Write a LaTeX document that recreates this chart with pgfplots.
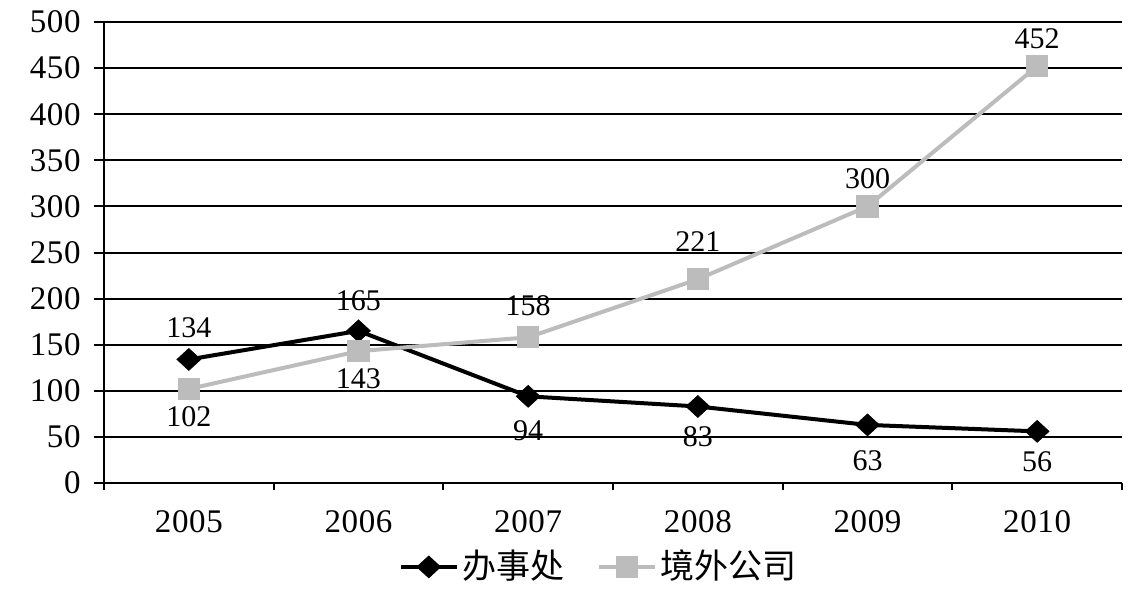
\documentclass[border=0pt]{standalone}
\usepackage{fontspec}
\setmainfont{Liberation Serif}[LetterSpace=2]
\newfontfamily\lab{Liberation Serif}
\newfontfamily\cjk{Noto Sans CJK SC}
\usepackage{pgfplots}
\pgfplotsset{compat=1.18}
\definecolor{lgray}{RGB}{188,188,188}
\pgfplotstableread{
x y dy
0 134 16
1 165 15
2 94 -17
3 83 -15
4 63 -18
5 56 -15
}\office
\pgfplotstableread{
x y dy
0 102 -14
1 143 -14
2 158 16
3 221 19
4 300 14
5 452 14
}\abroad
\begin{document}
\fontsize{16.5}{19}\selectfont
\begin{tikzpicture}
\useasboundingbox (-52pt,-53.5pt) rectangle (515.5pt,241.5pt);
\begin{axis}[
  at={(0,0)}, anchor=south west,
  scale only axis, width=509pt, height=230.5pt,
  xmin=-0.5, xmax=5.5, ymin=0, ymax=500,
  axis x line*=bottom, axis y line*=left,
  axis line style={line width=1pt, black, -},
  xtick={0,...,5}, xticklabels={2005,2006,2007,2008,2009,2010},
  minor xtick={-0.5,0.5,...,5.5},
  x tick style={draw=none},
  minor x tick style={draw=black, line width=1pt},
  ytick={0,50,...,500},
  y tick style={black, line width=1pt},
  tick align=outside,
  major tick length=5pt, minor tick length=3.5pt,
  ymajorgrids, grid style={black, line width=1pt},
  /pgf/number format/assume math mode=true,
  tick label style={font=\fontsize{16.5}{19}\selectfont},
  xticklabel style={yshift=-3pt},
  yticklabel style={xshift=-1pt},
  clip=false,
  legend style={at={(0.487,-0.182)}, anchor=center, draw=none, fill=none,
    legend columns=2, font=\fontsize{17}{20}\selectfont\cjk,
    /tikz/every even column/.append style={column sep=14pt}},
  legend image code/.code={
    \draw[#1, mark=none] (0pt,0pt) -- (28pt,0pt);
    \draw[#1, only marks] plot coordinates {(14pt,0pt)};
  },
  nodes near coords,
  visualization depends on={\thisrow{dy} \as \dy},
  every node near coord/.append style={anchor=center, yshift=\dy pt, font=\fontsize{15}{18}\selectfont\lab, black},
]
\addplot[black, line width=2pt, mark=diamond*, mark size=5.5pt, mark options={fill=black, line width=0.3pt, xscale=1.45}]
  table[x=x, y=y] {\office};
\addlegendentry{办事处}
\addplot[lgray, line width=2pt, mark=square*, mark size=5.3pt, mark options={fill=lgray, line width=0pt}]
  table[x=x, y=y] {\abroad};
\addlegendentry{境外公司}
\end{axis}
\end{tikzpicture}
\end{document}
